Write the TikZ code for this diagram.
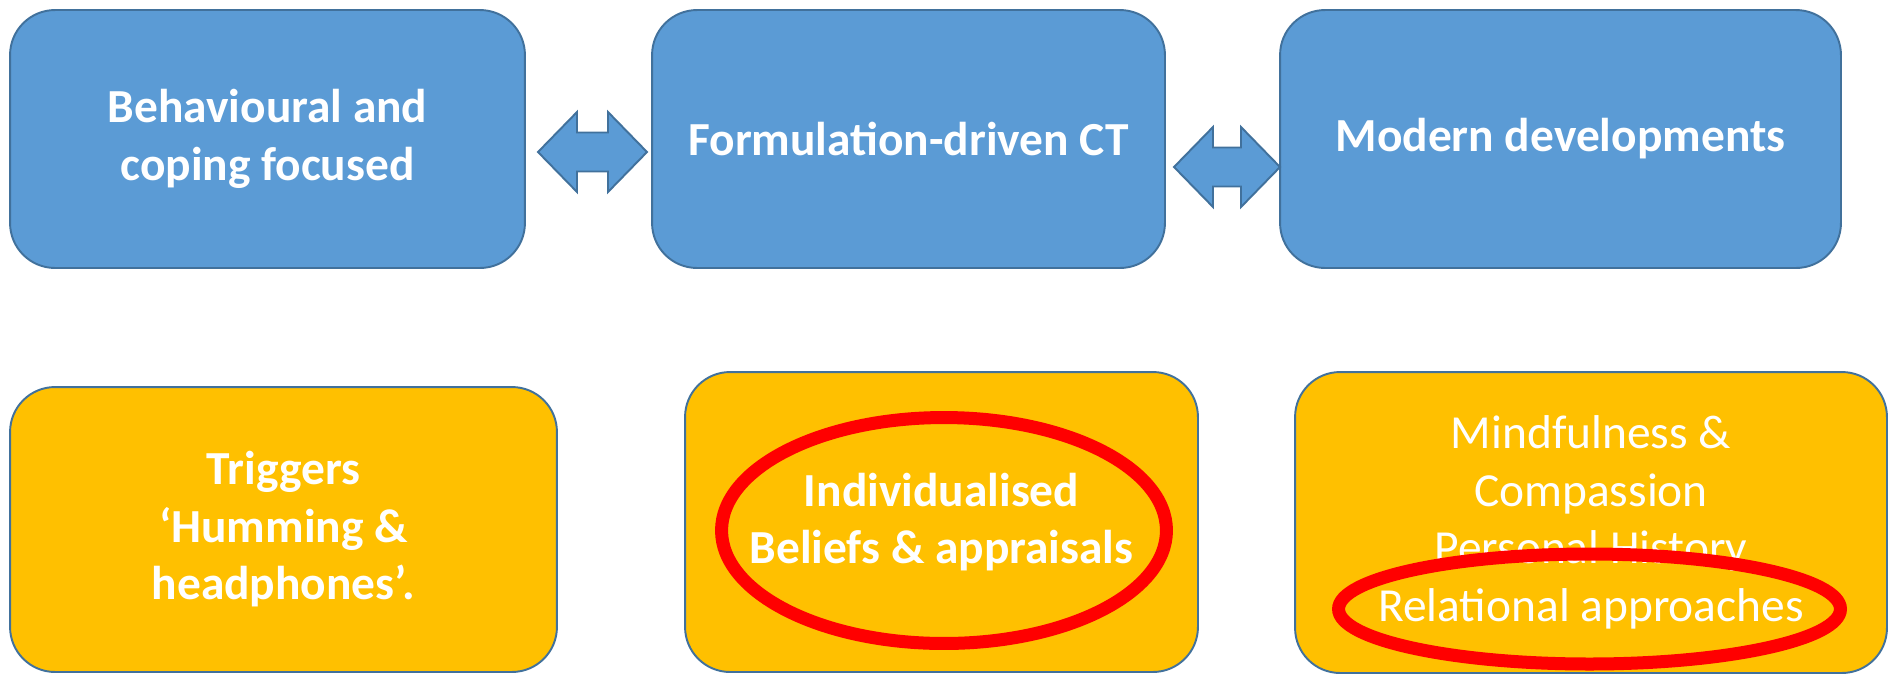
\documentclass[tikz,border=0pt]{standalone}
\usepackage{fontspec}
\setmainfont{Carlito}
\usetikzlibrary{calc}
\definecolor{boxblue}{HTML}{5B9BD5}
\definecolor{edgeblue}{HTML}{41719C}
\definecolor{boxgold}{HTML}{FFC000}
\definecolor{ringred}{HTML}{FF0000}
% left-right block arrow between two tip coordinates
\newcommand{\twoway}[2]{%
  \draw[lrarrow] (#1) -- ++(39,-40) -- ++(0,20.5) -- ($(#2)+(-39,-19.5)$) -- ++(0,-20.5)
    -- (#2) -- ++(-39,40) -- ++(0,-20.5) -- ($(#1)+(39,19.5)$) -- ++(0,20.5) -- cycle;}

\begin{document}
\begin{tikzpicture}[x=0.02cm, y=-0.02cm,
    box/.style={draw=edgeblue, line width=1.1pt, rounded corners=0.9cm, inner sep=0pt,
      align=center, text=white},
    boldtext/.style={font=\fontsize{27}{32.7}\selectfont\bfseries},
    plaintext/.style={font=\fontsize{27}{32.7}\selectfont},
    topbox/.style={box, boldtext, fill=boxblue, minimum height=5.16cm},
    lowbox/.style={box, fill=boxgold},
    lrarrow/.style={fill=boxblue, draw=edgeblue, line width=1.1pt, line join=miter},
    ring/.style={draw=ringred, line width=7.4pt}]
    \useasboundingbox (0,0) rectangle (1888,674);

    % top row
    \node[topbox, minimum width=10.3cm]  (behav)  at (267.5,139) {Behavioural and\\coping focused};
    \node[topbox, minimum width=10.26cm] (formul) at (908.5,139) {Formulation-driven CT};
    \node[topbox, minimum width=11.22cm] (modern) at (1560.5,139) {Modern developments};

    % bottom row
    \node[lowbox, boldtext, minimum width=10.94cm, minimum height=5.7cm] (trig) at (283.5,529.5)
        {Triggers\\‘Humming \&\\headphones’.};
    \node[lowbox, boldtext, minimum width=10.26cm, minimum height=6cm] (indiv) at (941.5,522)
        {Individualised\\Beliefs \& appraisals};
    \node[lowbox, plaintext, minimum width=11.84cm, minimum height=6.02cm] (mindful) at (1591,522.5)
        {Mindfulness \&\\Compassion\\Personal History\\Relational approaches};

    % arrows between the top boxes
    \coordinate (A1L) at (538,152);
    \coordinate (A1R) at (647,152);
    \coordinate (A2L) at (1174,167);
    \coordinate (A2R) at (1280,167);
    \twoway{A1L}{A1R}
    \twoway{A2L}{A2R}

    % red rings
    \draw[ring] (944,530.5) ellipse [x radius=4.45cm, y radius=2.26cm];
    \draw[ring] (1589.5,609) ellipse [x radius=5.02cm, y radius=1.1cm];
\end{tikzpicture}
\end{document}
